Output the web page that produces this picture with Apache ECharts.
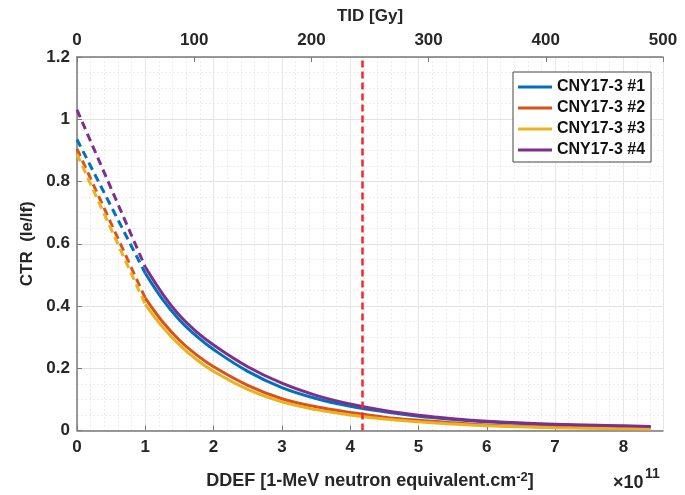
<!DOCTYPE html>
<html>
<head>
<meta charset="utf-8">
<script src="https://cdn.jsdelivr.net/npm/echarts@6/dist/echarts.min.js"></script>
<style>
  html, body { margin: 0; padding: 0; background: #fff; }
  #main { width: 685px; height: 495px; }
</style>
</head>
<body>
<div id="main"></div>
<script>
// fluence (x 1e11) where the measured curves run
const fluence = [1, 1.25, 1.5, 1.75, 2, 2.5, 3, 3.5, 4, 4.5, 5, 5.5, 6, 7, 8, 8.4]
const ctr1 = [0.505, 0.422, 0.355, 0.303, 0.26, 0.19, 0.138, 0.103, 0.078, 0.06, 0.046, 0.036, 0.028, 0.018, 0.013, 0.012]
const ctr2 = [0.425, 0.35, 0.29, 0.243, 0.205, 0.145, 0.102, 0.076, 0.058, 0.043, 0.033, 0.025, 0.018, 0.011, 0.008, 0.007]
const ctr3 = [0.405, 0.333, 0.275, 0.228, 0.19, 0.132, 0.092, 0.067, 0.05, 0.037, 0.028, 0.021, 0.015, 0.009, 0.006, 0.005]
const ctr4 = [0.525, 0.44, 0.37, 0.317, 0.275, 0.205, 0.152, 0.113, 0.085, 0.064, 0.049, 0.038, 0.03, 0.02, 0.015, 0.013]
// dashed extrapolation back to zero fluence
const extraX = [0, 1]
const extra1 = [0.935, 0.505]
const extra2 = [0.905, 0.425]
const extra3 = [0.888, 0.405]
const extra4 = [1.03, 0.525]
const names = ['CNY17-3 #1', 'CNY17-3 #2', 'CNY17-3 #3', 'CNY17-3 #4']
const colors = ['#0072BD', '#D95319', '#EDB120', '#7E2F8E']
const markX = 4.18

const FONT = '"Liberation Sans", Arial, sans-serif'
const chart = echarts.init(document.getElementById('main'), null, { renderer: 'canvas' })

function pairs (xs, ys) {
  return xs.map((x, i) => [x, ys[i]])
}

const solid = [ctr1, ctr2, ctr3, ctr4]
const dashed = [extra1, extra2, extra3, extra4]
const series = []
dashed.forEach((d, i) => {
  series.push({
    name: names[i] + ' fit',
    type: 'line',
    xAxisIndex: 0,
    data: pairs(extraX, d),
    showSymbol: false,
    lineStyle: { color: colors[i], width: 3, type: [8, 5] },
    itemStyle: { color: colors[i] },
    z: 3
  })
})
solid.forEach((d, i) => {
  const s = {
    name: names[i],
    type: 'line',
    xAxisIndex: 0,
    data: pairs(fluence, d),
    smooth: 0.4,
    showSymbol: false,
    lineStyle: { color: colors[i], width: 3 },
    itemStyle: { color: colors[i] },
    z: 4
  }
  if (i === 0) {
    s.markLine = {
      silent: true,
      symbol: 'none',
      label: { show: false },
      lineStyle: { color: '#ee2a2a', width: 2.5, type: [7, 4] },
      data: [{ xAxis: markX }]
    }
  }
  series.push(s)
})

const labelStyle = { color: '#262626', fontWeight: 'bold', fontSize: 17, fontFamily: FONT }
const axisLine = { show: true, lineStyle: { color: '#7a7a7a', width: 1.5 } }

chart.setOption({
  animation: false,
  grid: { left: 77, right: 22, top: 57, bottom: 62 },
  legend: {
    data: names,
    orient: 'vertical',
    left: 513,
    top: 72,
    icon: 'rect',
    itemWidth: 34,
    itemHeight: 3,
    itemGap: 5,
    padding: [7, 6, 4, 5],
    borderColor: '#444',
    borderWidth: 1,
    backgroundColor: '#fff',
    textStyle: { color: '#111', fontWeight: 'bold', fontSize: 16, fontFamily: FONT, lineHeight: 16 }
  },
  xAxis: [
    {
      type: 'value',
      position: 'bottom',
      min: 0,
      max: 8.58,
      interval: 1,
      name: 'DDEF [1-MeV neutron equivalent.cm{sup|-2}]',
      nameLocation: 'middle',
      nameGap: 40,
      nameTextStyle: {
        color: '#262626', fontWeight: 'bold', fontSize: 18, fontFamily: FONT,
        verticalAlign: 'top',
        rich: { sup: { fontSize: 13, fontWeight: 'bold', verticalAlign: 'bottom', padding: [0, 0, 8, 0], color: '#262626', fontFamily: FONT } }
      },
      axisLine: axisLine,
      axisTick: { show: true, inside: true, length: 5, lineStyle: { color: '#7a7a7a' } },
      axisLabel: Object.assign({ margin: 8, showMaxLabel: false }, labelStyle),
      splitLine: { show: true, lineStyle: { color: '#e3e3e3', width: 1 } }
    },
    {
      type: 'value',
      position: 'top',
      min: 0,
      max: 500,
      interval: 100,
      name: 'TID [Gy]',
      nameLocation: 'middle',
      nameGap: 32,
      nameTextStyle: { color: '#262626', fontWeight: 'bold', fontSize: 17, fontFamily: FONT },
      axisLine: axisLine,
      axisTick: { show: true, inside: true, length: 5, lineStyle: { color: '#7a7a7a' } },
      axisLabel: Object.assign({ margin: 8 }, labelStyle),
      splitLine: { show: false }
    },
    {
      // minor x grid
      type: 'value',
      position: 'bottom',
      min: 0,
      max: 8.58,
      interval: 0.2,
      axisLine: { show: false },
      axisTick: { show: false },
      axisLabel: { show: false },
      splitLine: { show: true, lineStyle: { color: '#ececec', width: 1, type: [2, 2] } },
      z: 0
    }
  ],
  yAxis: {
    type: 'value',
    min: 0,
    max: 1.2,
    interval: 0.2,
    name: 'CTR  (Ie/If)',
    nameLocation: 'middle',
    nameGap: 33,
    nameTextStyle: { color: '#262626', fontWeight: 'bold', fontSize: 17, fontFamily: FONT },
    axisLine: axisLine,
    axisTick: { show: true, inside: true, length: 5, lineStyle: { color: '#7a7a7a' } },
    axisLabel: Object.assign({ margin: 7 }, labelStyle),
    splitLine: { show: true, lineStyle: { color: '#e3e3e3', width: 1 } },
    minorTick: { show: false, splitNumber: 4 },
    minorSplitLine: { show: true, lineStyle: { color: '#ececec', width: 1, type: [2, 2] } }
  },
  graphic: [
    {
      type: 'text',
      left: 613,
      top: 474,
      style: { text: '×10', fill: '#262626', font: 'bold 18px ' + FONT }
    },
    {
      type: 'text',
      left: 645,
      top: 467,
      style: { text: '11', fill: '#262626', font: 'bold 14px ' + FONT }
    }
  ],
  series: series
})
</script>
</body>
</html>
